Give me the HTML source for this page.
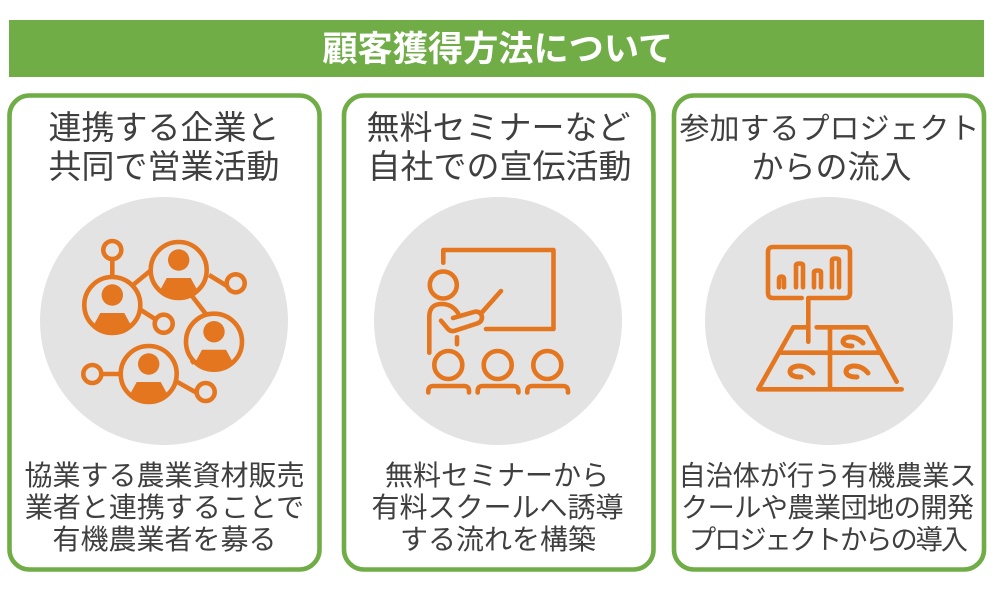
<!DOCTYPE html>
<html lang="ja">
<head>
<meta charset="utf-8">
<style>
html,body{margin:0;padding:0;background:#fff;width:1000px;height:608px;overflow:hidden}
svg{display:block}
text{font-family:"Liberation Sans","Noto Sans CJK JP",sans-serif;text-anchor:middle;fill:#3f3f3f}
.h{font-size:33px}
.b{font-size:28px}
.o{fill:none;stroke:#e4761f;stroke-width:4.600;stroke-linecap:round;stroke-linejoin:round}
.f{fill:#e4761f}
</style>
</head>
<body>
<svg width="1000" height="608" viewBox="0 0 1000 608" xmlns="http://www.w3.org/2000/svg">
<rect x="9" y="20" width="975" height="57" fill="#70ad47"/>
<text x="497.800" y="61" font-size="35.2" font-weight="700" style="fill:#fff">顧客獲得方法について</text>

<rect x="9.500" y="95.500" width="310" height="474" rx="20" fill="#fff" stroke="#70ad47" stroke-width="4.600"/>
<rect x="344" y="95.500" width="309.500" height="474" rx="20" fill="#fff" stroke="#70ad47" stroke-width="4.600"/>
<rect x="674" y="95.500" width="310" height="474" rx="20" fill="#fff" stroke="#70ad47" stroke-width="4.600"/>

<circle cx="164" cy="321" r="124" fill="#e3e3e3"/>
<circle cx="498" cy="321" r="124" fill="#e3e3e3"/>
<circle cx="829" cy="321" r="124" fill="#e3e3e3"/>

<text class="h" x="164" y="139">連携する企業と</text>
<text class="h" x="164" y="178">共同で営業活動</text>
<text class="h" x="498.500" y="139">無料セミナーなど</text>
<text class="h" x="499.500" y="178">自社での宣伝活動</text>
<text x="829.500" y="139" font-size="30">参加するプロジェクト</text>
<text x="831.500" y="178" font-size="32">からの流入</text>

<text class="b" x="164.500" y="485">協業する農業資材販売</text>
<text class="b" x="164.500" y="517">業者と連携することで</text>
<text class="b" x="164.500" y="549">有機農業者を募る</text>
<text class="b" x="497" y="485">無料セミナーから</text>
<text class="b" x="497.500" y="517">有料スクールへ誘導</text>
<text class="b" x="498" y="549">する流れを構築</text>
<text x="827.500" y="485" font-size="27.2" textLength="298" lengthAdjust="spacing">自治体が行う有機農業ス</text>
<text x="827.500" y="517" font-size="27.2" textLength="293" lengthAdjust="spacing">クールや農業団地の開発</text>
<text x="828.500" y="549" font-size="27.2" textLength="279" lengthAdjust="spacing">プロジェクトからの導入</text>

<!-- icon 1 -->
<g class="o" style="stroke-linecap:butt">
<path d="M112.300 259V277M133 285L150 271M209 275L227 286M133 305L155 319M192 296L209 318M191 363L204 354M172 379L197 393M101 374H121"/>
<circle cx="112.300" cy="250" r="9"/>
<circle cx="235.700" cy="283.300" r="9"/>
<circle cx="163.700" cy="323.700" r="9"/>
<circle cx="92.300" cy="374" r="9"/>
<circle cx="205.700" cy="392" r="9"/>
<circle cx="112.300" cy="305" r="28" fill="#e3e3e3"/>
<circle cx="178.700" cy="270" r="28" fill="#e3e3e3"/>
<circle cx="214" cy="341.700" r="28" fill="#e3e3e3"/>
<circle cx="148.700" cy="374" r="28" fill="#e3e3e3"/>
</g>
<g class="f">
<g transform="translate(112.300 305)"><circle cy="-10" r="10.700"/><path d="M-12 8H12L18 19A26 26 0 0 1-18 19Z"/></g>
<g transform="translate(178.700 270)"><circle cy="-10" r="10.700"/><path d="M-12 8H12L18 19A26 26 0 0 1-18 19Z"/></g>
<g transform="translate(214 341.700)"><circle cy="-10" r="10.700"/><path d="M-12 8H12L18 19A26 26 0 0 1-18 19Z"/></g>
<g transform="translate(148.700 374)"><circle cy="-10" r="10.700"/><path d="M-12 8H12L18 19A26 26 0 0 1-18 19Z"/></g>
</g>

<!-- icon 2 -->
<g class="o">
<path d="M443.300 262.700V250H553.500V329H486"/>
<circle cx="443.300" cy="285" r="13.500"/>
<path d="M429.300 352.700V316.700Q429.300 304 441.700 304Q452 304 458 313"/>
<path d="M453 318L475 311.700Q481 311 482 317Q482 322 477 323.500L455 330.700Q451 332 448 329L441 320.700"/>
<path d="M481.700 312.700L501 291"/>
<path d="M457 337.300V344.300"/>
<circle cx="448.300" cy="365" r="14"/>
<circle cx="497.700" cy="365" r="14"/>
<circle cx="547.300" cy="365" r="14"/>
<path d="M428.300 392.500V391Q428.300 386 433.300 386H464Q469 386 469 391V392.500"/>
<path d="M477.700 392.500V391Q477.700 386 482.700 386H513.400Q518.400 386 518.400 391V392.500"/>
<path d="M527.300 392.500V391Q527.300 386 532.300 386H563Q568 386 568 391V392.500"/>
</g>

<!-- icon 3 -->
<g class="o">
<path d="M801.700 298H773Q768 298 768 293V252Q768 247 773 247H845Q850 247 850 252V293Q850 298 845 298H808.300V341.700"/>
<path d="M779 287.300V279Q779 276.500 781.500 276.500Q784 276.500 784 279V287.300"/>
<path d="M796 287.300V265.500Q796 263.500 799.500 263.500Q803 263.500 803 265.500V287.300"/>
<path d="M814 287.300V272.500Q814 270.500 817.500 270.500Q821 270.500 821 272.500V287.300"/>
<path d="M832 287.300V260.500Q832 258.500 835.500 258.500Q839 258.500 839 260.500V287.300"/>
<path d="M816.700 327.300H866.700L896.700 381.700"/>
<path d="M808 327.300H793.300L758.300 389.300H901.700"/>
<path d="M830 327.300V389.300M781.700 352.700H880"/>
<path d="M863 343Q857 336.500 849 337Q843 338 843 342Q844 346 852 346" style="stroke-width:5"/>
<path d="M813 373Q807 365.500 798 366Q790 367 790 372Q791 377 801 377" style="stroke-width:5"/>
<path d="M868 373Q862 365.500 853 366Q846 367 846 372Q847 377 857 377" style="stroke-width:5"/>
</g>
</svg>
</body>
</html>
